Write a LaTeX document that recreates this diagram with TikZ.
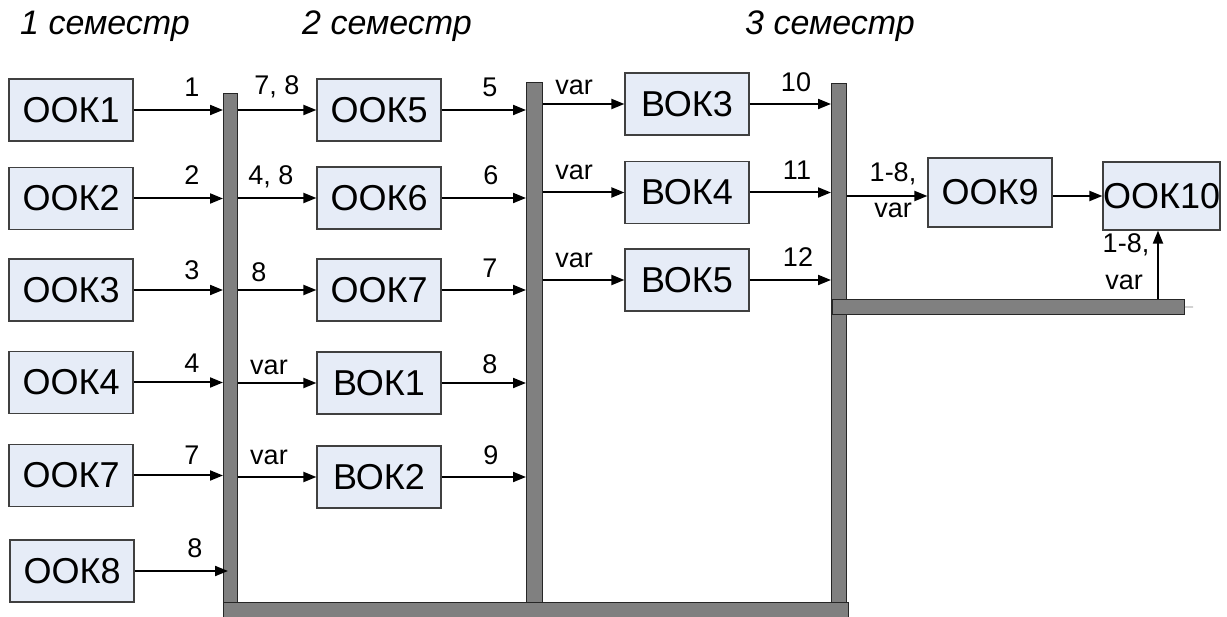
\documentclass[tikz,border=0pt]{standalone}
\usepackage{fontspec}
\setmainfont{Liberation Sans}
\usetikzlibrary{arrows.meta,calc}
\definecolor{boxfill}{HTML}{E6ECF7}
\definecolor{bargray}{HTML}{808080}
\begin{document}
\begin{tikzpicture}[x=1pt,y=-1pt,
 box/.style={draw=black!75, line width=1.2pt, fill=boxfill, minimum width=124pt, minimum height=62pt, inner sep=0pt, font=\fontsize{36}{42}\selectfont},
 bar/.style={draw=black!85, line width=0.8pt, fill=bargray, inner sep=0pt, anchor=north west},
 lab/.style={font=\fontsize{27}{32}\selectfont, inner sep=0pt, anchor=base},
 head/.style={font=\fontsize{34}{40}\selectfont\itshape, inner sep=0pt, anchor=base west},
 arr/.style={line width=2pt, -{Triangle[length=13pt,width=10pt]}},
]
\useasboundingbox (0,0) rectangle (1227,617);
% headings
\node[head] (h1) at (20,35) {1 семестр};
\node[head] (h2) at (302,35) {2 семестр};
\node[head] (h3) at (745,35) {3 семестр};
% bars
\node[bar, minimum width=14pt, minimum height=510pt] (bar1) at (223,93) {};
\node[bar, minimum width=16pt, minimum height=521pt] (bar2) at (526,82) {};
\node[bar, minimum width=15pt, minimum height=520pt] (bar3) at (831,83) {};
\node[bar, minimum width=625pt, minimum height=17pt] (bottom) at (223,602) {};
\node[bar, minimum width=352pt, minimum height=15pt] (hbar) at (832,299) {};
\coordinate (tick) at (1193,307);
\draw[black!50, line width=0.8pt] (hbar.east) -- (tick);
% column 1
\node[box] (ook1) at (71,110) {ООК1};
\node[box] (ook2) at (71,198.5) {ООК2};
\node[box] (ook3) at (71,290) {ООК3};
\node[box] (ook4) at (71,382.5) {ООК4};
\node[box] (ook7a) at (71,475.5) {ООК7};
\node[box] (ook8) at (72,571) {ООК8};
% column 2
\node[box] (ook5) at (379,110) {ООК5};
\node[box] (ook6) at (379,198) {ООК6};
\node[box] (ook7b) at (379,290) {ООК7};
\node[box] (bok1) at (379,383) {ВОК1};
\node[box] (bok2) at (379,477) {ВОК2};
% column 3
\node[box] (bok3) at (687,104) {ВОК3};
\node[box] (bok4) at (687,192.5) {ВОК4};
\node[box] (bok5) at (687,280) {ВОК5};
\node[box, minimum height=69pt] (ook9) at (990,192.5) {ООК9};
\node[box, minimum width=117pt, minimum height=68pt] (ook10) at (1161.5,196) {ООК10};
% arrows col1 -> bar1
\foreach \n in {ook1,ook2,ook3,ook4,ook7a}
  \draw[arr] (\n.east) -- (\n.east -| bar1.west);
\draw[arr] (ook8.east) -- ($(ook8.east -| bar1.west)+(5,0)$);
% bar1 -> col2, col2 -> bar2
\foreach \n in {ook5,ook6,ook7b,bok1,bok2}{
  \draw[arr] (bar1.east |- \n.west) -- (\n.west);
  \draw[arr] (\n.east) -- (\n.east -| bar2.west);
}
% bar2 -> col3, col3 -> bar3
\foreach \n in {bok3,bok4,bok5}{
  \draw[arr] (bar2.east |- \n.west) -- (\n.west);
  \draw[arr] (\n.east) -- (\n.east -| bar3.west);
}
\draw[arr] (bar3.east |- ook10.west) -- (ook9.west |- ook10.west);
\draw[arr] (ook9.east |- ook10.west) -- (ook10.west);
\draw[arr] ([xshift=-3.5pt]ook10.south |- hbar.north) -- ([xshift=-3.5pt]ook10.south);
% labels
\node[lab] (a1) at (192,97) {1};
\node[lab] (a2) at (192,185) {2};
\node[lab] (a3) at (192,280) {3};
\node[lab] (a4) at (192,373) {4};
\node[lab] (a5) at (192,465) {7};
\node[lab] (a6) at (195,558) {8};
\node[lab] (b1) at (277,95) {7, 8};
\node[lab] (b2) at (271,185) {4, 8};
\node[lab] (b3) at (259,282) {8};
\node[lab] (b4) at (269,375) {var};
\node[lab] (b5) at (269,465) {var};
\node[lab] (c1) at (490,97) {5};
\node[lab] (c2) at (491,185) {6};
\node[lab] (c3) at (490,278) {7};
\node[lab] (c4) at (490,374) {8};
\node[lab] (c5) at (491,465) {9};
\node[lab] (d1) at (574,95) {var};
\node[lab] (d2) at (574,180) {var};
\node[lab] (d3) at (574,268) {var};
\node[lab] (e1) at (796,92) {10};
\node[lab] (e2) at (797,180) {11};
\node[lab] (e3) at (798,267) {12};
\node[lab] (f1) at (893,182) {1-8,};
\node[lab] (f2) at (893,218) {var};
\node[lab] (g1) at (1126,253) {1-8,};
\node[lab] (g2) at (1124,290) {var};
\end{tikzpicture}
\end{document}
